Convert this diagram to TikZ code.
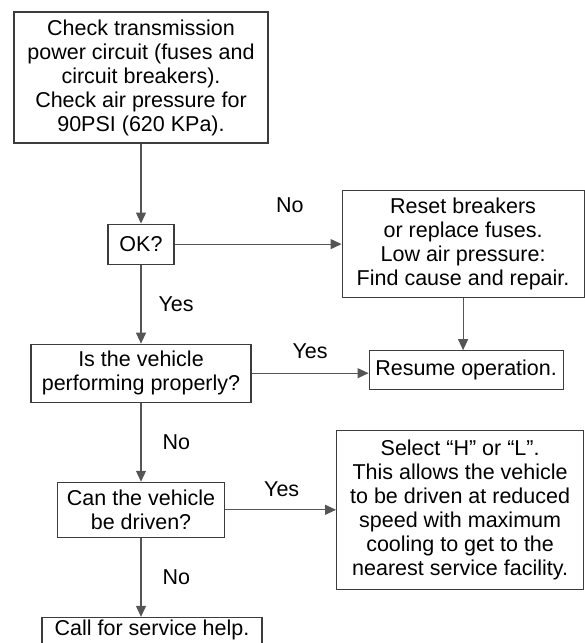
\documentclass[tikz,border=0pt]{standalone}
\usepackage{fontspec}
\setmainfont{Liberation Sans}
\usepackage{tikz}
\usetikzlibrary{positioning,arrows.meta}
\definecolor{edge}{RGB}{60,60,60}
\definecolor{wire}{RGB}{85,85,85}
\tikzset{
    box/.style={rectangle,draw=edge,line width=1.1pt,fill=white,align=center,inner sep=2pt,font=\fontsize{21.5}{24}\selectfont},
    arr/.style={-{Triangle[length=11pt,width=10pt]},line width=1.1pt,draw=wire},
    lbl/.style={inner sep=0pt,font=\fontsize{21.5}{24}\selectfont},
}
\begin{document}
\begin{tikzpicture}[x=1pt,y=1pt,node distance=79pt and 167pt]
\useasboundingbox (0,0) rectangle (585,-643);
\node[box,minimum width=254pt,minimum height=131pt] (check) at (141,-77.5) {Check transmission\\power circuit (fuses and\\circuit breakers).\\Check air pressure for\\90PSI (620 KPa).};
\node[box,below=80pt of check,minimum width=66pt,minimum height=40pt] (ok) {OK?};
\node[box,right=of ok,minimum width=242pt,minimum height=107pt] (reset) {Reset breakers\\or replace fuses.\\Low air pressure:\\Find cause and repair.};
\node[box,below=of ok,minimum width=220pt,minimum height=58pt] (is) {Is the vehicle\\performing properly?};
\node[box,below=52pt of reset,xshift=3pt,minimum width=194pt,minimum height=39pt] (resume) {Resume operation.};
\node[box,below=of is,minimum width=167pt,minimum height=55pt] (can) {Can the vehicle\\be driven?};
\node[box,right=111pt of can,minimum width=247pt,minimum height=159pt] (select) {Select “H” or “L”.\\This allows the vehicle\\to be driven at reduced\\speed with maximum\\cooling to get to the\\nearest service facility.};
\node[box,below=of can,xshift=11pt,minimum width=220pt,inner ysep=3pt,text depth=22pt] (call) {Call for service help.};

\draw[arr] (check) -- (ok);
\draw[arr] (ok) -- node[lbl,above=31pt,pos=0.69]{No} (reset);
\draw[arr] (reset.south -| resume.north) ++(-3pt,0) coordinate (rs) -- (rs |- resume.north);
\draw[arr] (ok) -- node[lbl,right=17pt,pos=0.5]{Yes} (is);
\draw[arr] (is.east) -- node[lbl,above=14pt,pos=0.5]{Yes} (is.east -| resume.west);
\draw[arr] (is) -- node[lbl,right=21pt,pos=0.5]{No} (can);
\draw[arr] (can) -- node[lbl,above=13pt,pos=0.51]{Yes} (select);
\draw[arr] (can) -- node[lbl,right=21pt,pos=0.5]{No} (can |- call.north);
\end{tikzpicture}
\end{document}
